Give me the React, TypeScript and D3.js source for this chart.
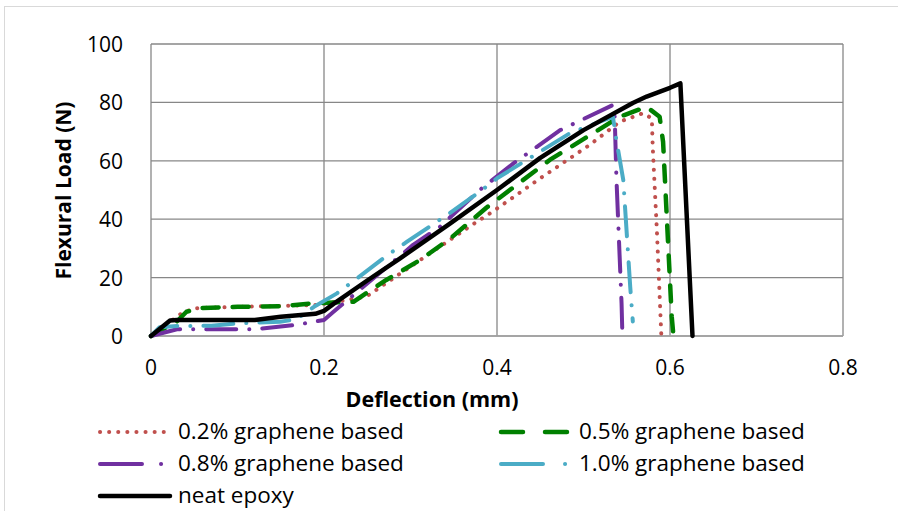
import React from "react";
import * as d3 from "d3";

const xTicks = [0, 0.2, 0.4, 0.6, 0.8];
const yTicks = [0, 20, 40, 60, 80, 100];

const neatX = [0, 0.022, 0.03, 0.12, 0.15, 0.19, 0.2, 0.211, 0.25, 0.288, 0.346, 0.4, 0.45, 0.5, 0.557, 0.573, 0.6, 0.612, 0.626];
const neatY = [0, 5.3, 5.5, 5.5, 6.6, 7.6, 8.6, 11, 19, 26.6, 38.6, 50, 61, 70.5, 79.8, 82, 85, 86.5, 0];

const g02X = [0, 0.0335, 0.05, 0.1, 0.15, 0.19, 0.208, 0.249, 0.326, 0.372, 0.395, 0.45, 0.507, 0.542, 0.569, 0.579, 0.58, 0.585, 0.59];
const g02Y = [0, 7.4, 9.5, 10, 10.3, 10.6, 11.4, 13.5, 29, 38.2, 42.6, 54, 65.4, 73.4, 76.3, 74.5, 65, 35, 0];

const g05X = [0, 0.03, 0.041, 0.057, 0.1, 0.15, 0.187, 0.234, 0.272, 0.311, 0.346, 0.388, 0.461, 0.542, 0.573, 0.588, 0.592, 0.602, 0.604];
const g05Y = [0, 5, 8.3, 9.6, 10, 10.2, 11.2, 11.7, 19.2, 26, 33.4, 44, 60.3, 75.1, 78.5, 75.1, 66.5, 6.6, 0];

const g08X = [0, 0.03, 0.12, 0.168, 0.2, 0.211, 0.23, 0.303, 0.334, 0.38, 0.419, 0.473, 0.534, 0.536, 0.538, 0.544, 0.545];
const g08Y = [0, 2.3, 2.3, 3.8, 5.5, 8.3, 13, 31.2, 37.4, 50, 59.1, 70.5, 79.1, 76, 54.5, 11.2, 0];

const g10X = [0, 0.01, 0.03, 0.07, 0.099, 0.149, 0.168, 0.19, 0.215, 0.238, 0.272, 0.296, 0.342, 0.38, 0.4, 0.484, 0.534, 0.538, 0.546, 0.554, 0.557];
const g10Y = [0, 3, 3.4, 3.5, 4.3, 4.9, 5.7, 10.3, 14.6, 19.7, 27.4, 32.3, 41.4, 49.4, 54, 69.4, 75.1, 67.1, 53.4, 16.9, 5];

const seriesNames = ["0.2% graphene based", "0.5% graphene based", "0.8% graphene based", "1.0% graphene based", "neat epoxy"];

const FONT = "'Open Sans', 'Noto Sans', sans-serif";

export default function App() {
  const left = 151, right = 843, top = 44, bottom = 336;
  const x = d3.scaleLinear().domain([0, 0.8]).range([left, right]);
  const y = d3.scaleLinear().domain([0, 100]).range([bottom, top]);
  const mk = (xs: number[], ys: number[]) =>
    d3.line<number>().x((_, i) => x(xs[i])).y((_, i) => y(ys[i]))(xs) || "";

  const series = [
    { name: seriesNames[0], d: mk(g02X, g02Y), color: "#C0504D", w: 4, dash: "0.1 9", legendDash: "0.1 9" },
    { name: seriesNames[1], d: mk(g05X, g05Y), color: "#008000", w: 4.5, dash: "16 14", legendDash: "22 22" },
    { name: seriesNames[2], d: mk(g08X, g08Y), color: "#7030A0", w: 4, dash: "30 13 0.1 13", legendDash: "42 19 0.1 100" },
    { name: seriesNames[3], d: mk(g10X, g10Y), color: "#4BACC6", w: 4, dash: "30 13 0.1 13", legendDash: "42 22 0.1 100" },
    { name: seriesNames[4], d: mk(neatX, neatY), color: "#000000", w: 4.5, dash: "", legendDash: "" },
  ];

  const legendPos = [
    { lx: 100, ly: 432 },
    { lx: 501, ly: 432 },
    { lx: 100, ly: 464 },
    { lx: 501, ly: 464 },
    { lx: 100, ly: 496 },
  ];

  return (
    <svg width={898} height={511} style={{ position: "absolute", left: 0, top: 0 }}>
      <rect x={0} y={0} width={898} height={511} fill="#ffffff" />
      <rect x={4.5} y={6.5} width={900} height={520} fill="none" stroke="#D9D9D9" strokeWidth={1} />
      {yTicks.map((t) => (
        <line key={"gy" + t} x1={left} x2={right} y1={y(t)} y2={y(t)} stroke="#878787" strokeWidth={1.3} />
      ))}
      {xTicks.map((t) => (
        <line key={"gx" + t} x1={x(t)} x2={x(t)} y1={top} y2={bottom} stroke="#878787" strokeWidth={1.3} />
      ))}
      <line x1={left} x2={right} y1={bottom} y2={bottom} stroke="#A6A6A6" strokeWidth={1.5} />
      {yTicks.map((t) => (
        <text key={"ty" + t} x={123} y={y(t) + 8} textAnchor="end" fontFamily={FONT} fontSize={21} fill="#000">
          {t}
        </text>
      ))}
      {xTicks.map((t) => (
        <text key={"tx" + t} x={x(t)} y={375} textAnchor="middle" fontFamily={FONT} fontSize={21} fill="#000">
          {t === 0 ? "0" : String(t)}
        </text>
      ))}
      <text x={432} y={407} textAnchor="middle" fontFamily={FONT} fontSize={21.5} fontWeight="bold" fill="#000">
        Deflection (mm)
      </text>
      <text
        transform={`translate(71,190.5) rotate(-90)`}
        textAnchor="middle"
        fontFamily={FONT}
        fontSize={21}
        fontWeight="bold"
        fill="#000"
      >
        Flexural Load (N)
      </text>
      {series.map((s) => (
        <path
          key={s.name}
          d={s.d}
          fill="none"
          stroke={s.color}
          strokeWidth={s.w}
          strokeDasharray={s.dash || undefined}
          strokeLinecap="round"
          strokeLinejoin="round"
        />
      ))}
      {series.map((s, i) => (
        <g key={"lg" + s.name}>
          <line
            x1={legendPos[i].lx}
            x2={legendPos[i].lx + 70}
            y1={legendPos[i].ly}
            y2={legendPos[i].ly}
            stroke={s.color}
            strokeWidth={s.w}
            strokeDasharray={s.legendDash || undefined}
            strokeLinecap="round"
          />
          <text x={legendPos[i].lx + 78} y={legendPos[i].ly + 7} fontFamily={FONT} fontSize={22.5} fill="#000">
            {s.name}
          </text>
        </g>
      ))}
    </svg>
  );
}
